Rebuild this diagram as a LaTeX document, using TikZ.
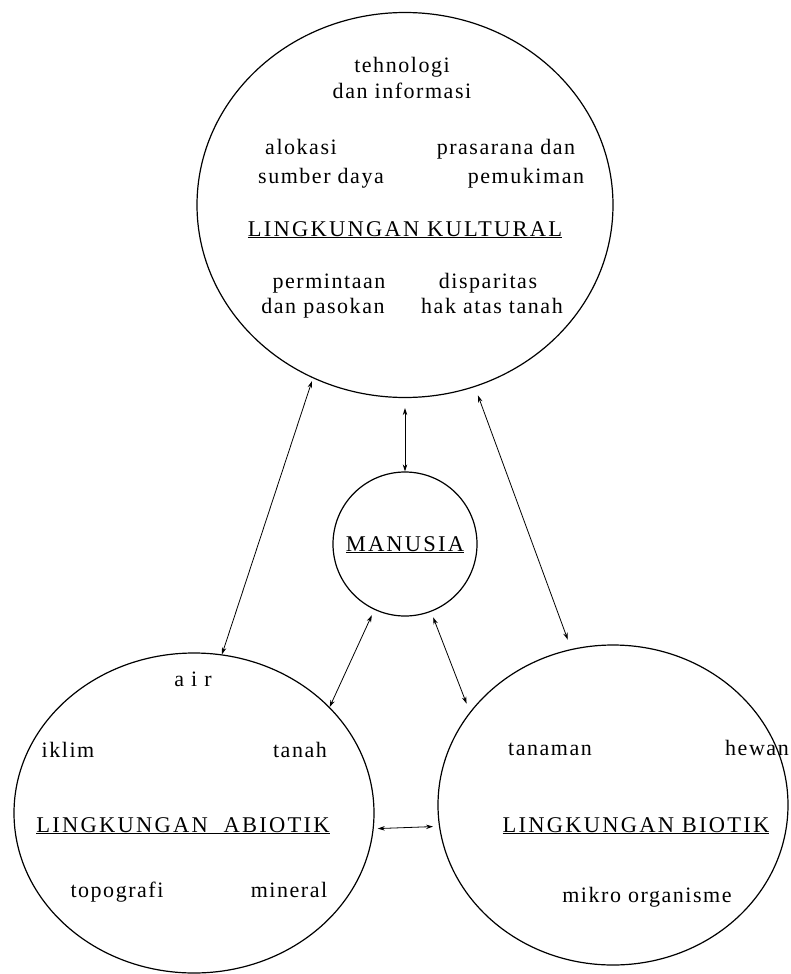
\documentclass[tikz,border=0pt]{standalone}
\usepackage{fontspec}
\usetikzlibrary{shapes.geometric,arrows.meta}
\newfontfamily\lbfont[LetterSpace=7]{Liberation Serif}
\newfontfamily\capfontfam[LetterSpace=10]{Liberation Serif}
\tikzset{
  env/.style={draw, ellipse, line width=1.2pt, inner sep=0pt},
  lbl/.style={font=\lbfont\fontsize{22}{26}\selectfont, inner sep=0pt, anchor=base},
  ttl/.style={font=\capfontfam\fontsize{22.5}{26}\selectfont, inner sep=0pt, anchor=base},
  link/.style={line width=0.8pt, {Stealth[length=7pt,width=4.5pt]}-{Stealth[length=7pt,width=4.5pt]}}
}
\begin{document}
\begin{tikzpicture}[x=1pt,y=-1pt]
\fill[white] (0,0) rectangle (790,974);
\useasboundingbox (0,0) rectangle (790,974);

% main shapes
\node[env, minimum width=416pt, minimum height=385pt] (kul) at (405,205) {};
\node[env, circle, minimum size=144pt] (man) at (405,544) {};
\node[env, minimum width=360pt, minimum height=320pt] (abi) at (194,813) {};
\node[env, minimum width=350pt, minimum height=320pt] (bio) at (613,805) {};

% Kultural texts
\node[lbl] (t1) at (402,73) {tehnologi};
\node[lbl] (t2) at (402,99) {dan informasi};
\node[lbl] (t3) at (301,154) {alokasi};
\node[lbl] (t4) at (321,183) {sumber daya};
\node[lbl] (t5) at (506,154) {prasarana dan};
\node[lbl] (t6) at (526,183) {pemukiman};
\node[ttl] (kt) at (405,236) {\underline{LINGKUNGAN KULTURAL}};
\node[lbl] (t7) at (329,288) {permintaan};
\node[lbl] (t8) at (323,313) {dan pasokan};
\node[lbl] (t9) at (488,288) {disparitas};
\node[lbl] (t10) at (492,313) {hak atas tanah};

% Manusia
\node[ttl] (mt) at (405,551) {\underline{MANUSIA}};

% Abiotik texts
\node[lbl] (a1) at (193,686) {a i r};
\node[lbl] (a2) at (68,757) {iklim};
\node[lbl] (a3) at (300,757) {tanah};
\node[ttl] (at) at (183,832) {\underline{LINGKUNGAN\ \ ABIOTIK}};
\node[lbl] (a4) at (117,897) {topografi};
\node[lbl] (a5) at (289,897) {mineral};

% Biotik texts
\node[lbl] (b1) at (550,755) {tanaman};
\node[lbl] (b2) at (757,755) {hewan};
\node[ttl] (bt) at (636,832) {\underline{LINGKUNGAN BIOTIK}};
\node[lbl] (b3) at (647,902) {mikro organisme};

% connectors
\draw[link, shorten <=3pt] (kul.242) -- (abi.80);
\draw[link] ([yshift=-10pt]kul.south) -- (man.north);
\draw[link, shorten <=9pt, shorten >=10pt] (kul.291) -- (bio.105.6);
\draw[link, shorten <=6pt] (man.245.7) -- (abi.38.6);
\draw[link, shorten <=6pt, shorten >=9pt] (man.291) -- (bio.147.4);
\draw[link, shorten <=4pt, shorten >=6pt] (abi.-5) -- (bio.187.5);
\end{tikzpicture}
\end{document}
